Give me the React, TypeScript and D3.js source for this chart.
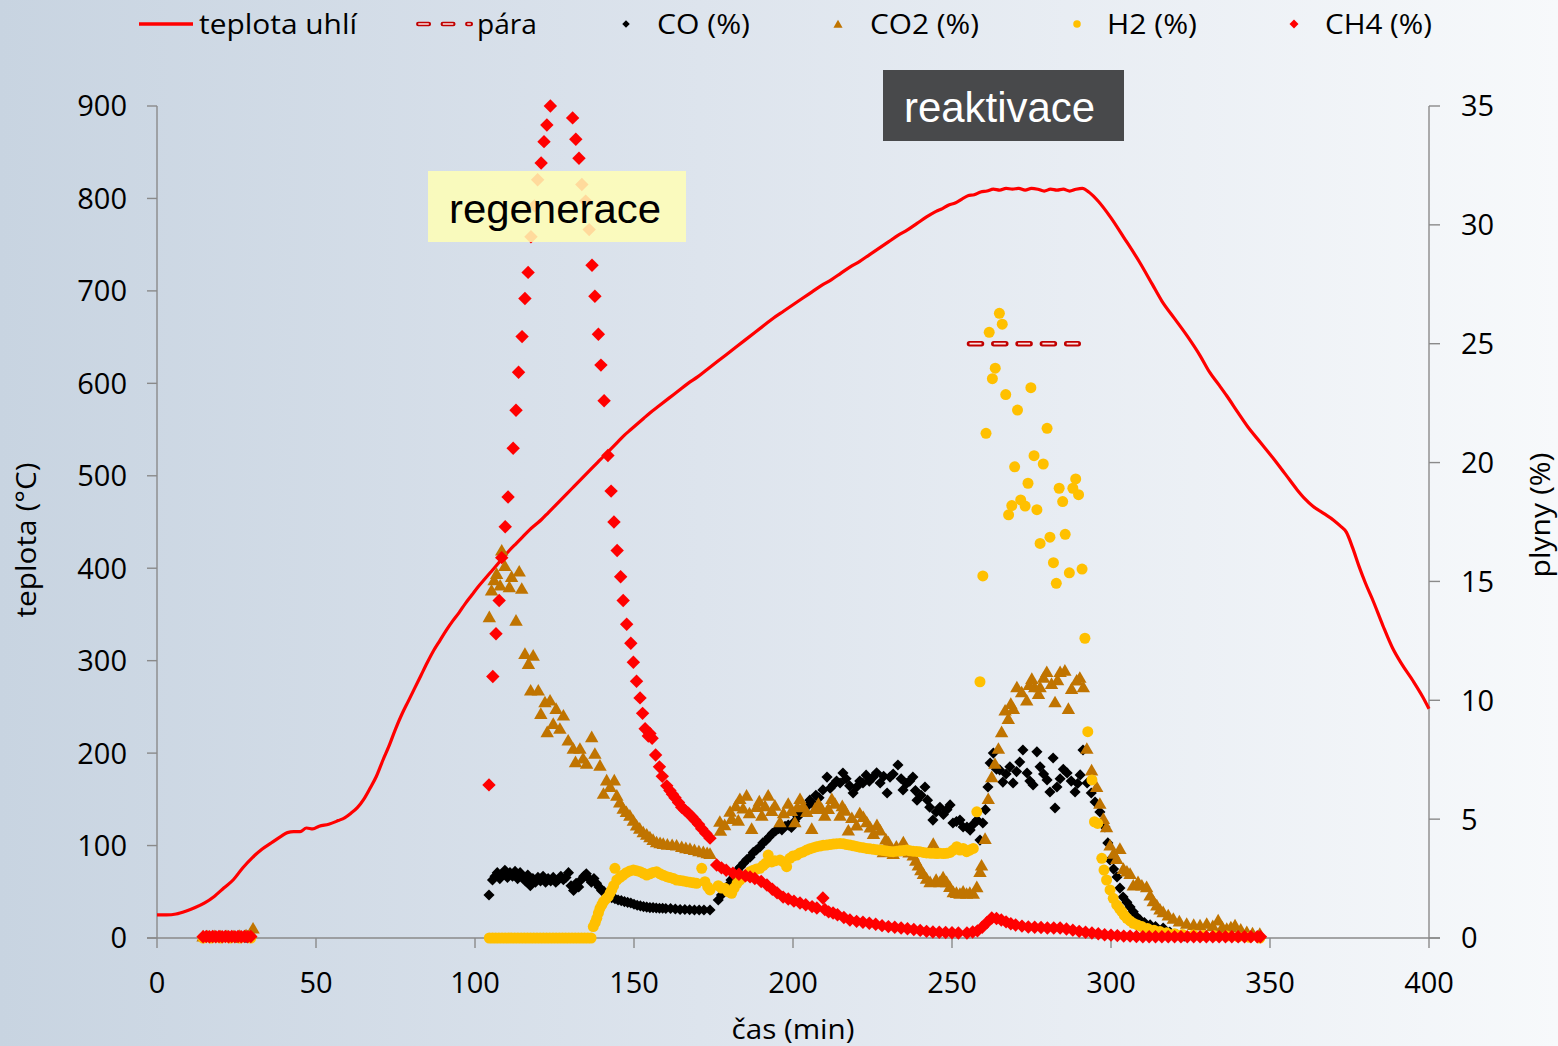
import React from 'react';
import * as d3 from 'd3';

const W = 1558;
const H = 1046;

// time (min), coal temperature (°C)
const temperature: [number, number][] = [
  [0, 25], [3, 25], [6, 26], [9, 29], [12, 33], [15, 38], [18, 45], [21, 54], [24, 63], [27, 76], [30, 87],
  [33, 96], [36, 103], [39, 110], [41, 114], [43, 115], [45, 115], [47, 119], [49, 118], [51, 121], [54, 123],
  [57, 127], [59, 130], [61, 135], [63, 141], [65, 150], [67, 162], [69, 175], [71, 192], [73, 208], [75, 226],
  [77, 242], [79, 256], [81, 270], [83, 284], [85, 298], [87, 311], [89, 322], [91, 333], [93, 343], [95, 352],
  [97, 362], [99, 371], [101, 380], [103, 388], [105, 396], [107, 404], [109, 412], [111, 420], [113, 427],
  [115, 434], [117, 441], [119, 447], [121, 453], [123, 460], [125, 467], [127, 474], [129, 481], [131, 488],
  [133, 495], [135, 502], [137, 509], [139, 516], [141, 523], [143, 530], [145, 537], [147, 544], [149, 550],
  [151, 556], [153, 562], [155, 568], [158, 576], [161, 584], [164, 592], [167, 600], [170, 607], [173, 615],
  [176, 623], [179, 631], [182, 639], [185, 647], [188, 655], [191, 663], [194, 671], [197, 678], [200, 685],
  [203, 692], [206, 699], [209, 706], [212, 712], [215, 719], [218, 726], [221, 732], [224, 739], [227, 746],
  [230, 753], [233, 760], [236, 766], [239, 773], [242, 780], [245, 786], [247, 789], [249, 793], [251, 795],
  [253, 799], [255, 803], [257, 804], [259, 807], [261, 808], [263, 810], [265, 809], [267, 811], [269, 810],
  [271, 811], [273, 809], [275, 811], [277, 810], [279, 808], [281, 810], [283, 809], [285, 810], [287, 808],
  [289, 810], [291, 811], [293, 807], [296, 797], [300, 779], [304, 758], [309, 731], [313, 707], [316, 689],
  [320, 670], [324, 651], [328, 630], [331, 612], [334, 598], [336.5, 586], [340, 568], [343, 553], [347, 536],
  [351, 519], [355, 501], [358.5, 485], [361, 475], [363.5, 467], [367, 459], [370, 452], [372, 446], [374, 439],
  [376, 422], [378, 402], [380, 384], [382.5, 364], [385.5, 338], [388.5, 314], [391.5, 296], [395, 278],
  [398, 261], [400, 248],
];

// steam (right axis, %)
const steam: [number, number][] = [[255.5, 25], [289.7, 25]];

// CO (%)
const co: [number, number][] = [
  [15, 0.02], [20, 0.02], [25, 0.02], [28, 0.02],
  [104.4, 1.81], [105.5, 2.44], [106.3, 2.6], [107, 2.75], [107.8, 2.5], [108.6, 2.7], [109.4, 2.85], [110.2, 2.55],
  [111, 2.75], [111.8, 2.6], [112.6, 2.8], [113.4, 2.5], [114.2, 2.75], [115, 2.6], [115.8, 2.4], [116.6, 2.65],
  [117.4, 2.2], [118.2, 2.5], [119, 2.35], [119.8, 2.55], [120.6, 2.4], [121.4, 2.6], [122.2, 2.35], [123, 2.5],
  [123.8, 2.4], [124.6, 2.55], [125.4, 2.35], [126.2, 2.45], [127, 2.6], [127.8, 2.45], [128.6, 2.55], [129.4, 2.75],
  [130.2, 2.2], [131, 2.0], [131.8, 2.3], [132.6, 2.15], [133.4, 2.45], [134.2, 2.6], [135, 2.7], [135.8, 2.5],
  [136.6, 2.35], [137.4, 2.5], [138.2, 2.3], [139, 2.15], [139.8, 2.0], [140.6, 1.95], [141.4, 1.85], [142.2, 1.78],
  [143, 1.7], [144, 1.65], [145, 1.6], [146, 1.57], [147, 1.53], [148, 1.5], [149, 1.47], [150, 1.42], [151, 1.38],
  [152, 1.35], [153, 1.32], [154, 1.3], [155, 1.28], [156, 1.28], [157, 1.26], [158, 1.25], [159, 1.25], [160, 1.24],
  [161.5, 1.24], [163, 1.22], [164.5, 1.2], [166, 1.2], [167.5, 1.19], [169, 1.18], [170.5, 1.18], [172, 1.18],
  [173.9, 1.18],
  [176.5, 1.6], [177.5, 1.81], [178.5, 2.0], [179.5, 2.2], [180.5, 2.44], [181.5, 2.6], [182.5, 2.85], [183.5, 3.0],
  [184.5, 3.15], [185.5, 3.3], [186.5, 3.4], [187.5, 3.6], [188.5, 3.7], [189.6, 3.83], [190.5, 4.0], [191.5, 4.1],
  [192.5, 4.25], [193.5, 4.4], [194.5, 4.5], [195.5, 4.6], [196.5, 4.55], [197.5, 4.7], [198.5, 4.75], [199.5, 4.65],
  [200.5, 4.9], [201.5, 5.1], [202.5, 5.3], [203.5, 5.45], [204.5, 5.55], [205.3, 5.8], [206.3, 5.65], [207.2, 6.0],
  [208.2, 5.9], [209.4, 6.23], [210.7, 6.77], [211.7, 6.3], [212.7, 6.45], [213.7, 6.6], [214.8, 6.52], [215.7, 6.94],
  [216.7, 6.7], [217.8, 6.4], [218.9, 6.1], [220, 6.35], [221, 6.6], [222, 6.52], [223, 6.85], [224, 6.6],
  [225.2, 6.77], [226.3, 6.95], [227.4, 6.52], [228.5, 6.8], [229.6, 6.1], [230.5, 6.77], [231.5, 6.9], [233, 7.28],
  [234, 6.7], [234.6, 6.23], [235.7, 6.5], [236.7, 6.6], [237.7, 6.77], [238.5, 6.2], [239, 5.8], [240.3, 6.0],
  [241.5, 6.35], [242.3, 5.8], [243, 5.5], [244, 4.96], [245, 5.3], [246.2, 5.5], [247.3, 5.2], [248.4, 5.4],
  [249.4, 5.6], [250.3, 4.84], [251.4, 4.9], [252.5, 4.96], [253.5, 4.67], [254.7, 4.67], [255.7, 4.54], [256.8, 4.8],
  [257.9, 4.96], [258.8, 4.12], [259.7, 4.84], [260.5, 5.4], [261.3, 6.35], [262, 7.36], [263, 7.78], [264, 7.1],
  [265, 7.07], [266, 6.56], [267, 6.9], [268.2, 7.2], [269.2, 6.52], [270.3, 7.0], [271.3, 7.4], [272.3, 7.91],
  [273.6, 6.94], [274.5, 6.6], [275.5, 6.44], [276.7, 7.83], [277.7, 7.2], [278.8, 6.9], [279.9, 6.65], [280.8, 6.14],
  [281.8, 7.57], [282.4, 5.47], [283, 6.35], [284, 6.7], [285, 7.1], [286.2, 6.94], [287.5, 6.6], [288.7, 6.14],
  [289.5, 6.5], [290.3, 6.86], [291.2, 7.91], [292.5, 6.52], [293.8, 6.1], [295, 5.72], [296.5, 5.3], [298.1, 4.67],
  [299, 4.0], [299.7, 3.28], [300.8, 2.9], [301.9, 2.57], [302.8, 2.1], [303.8, 1.72], [305, 1.5], [306, 1.3],
  [307, 1.1], [308, 0.9], [309.1, 0.76], [310.5, 0.65], [312.3, 0.55], [314, 0.48], [316.4, 0.42], [318.5, 0.25],
  [320.8, 0.13], [323, 0.08],
];

// CO2 (%)
const co2: [number, number][] = [
  [14.5, 0.02], [16, 0.02], [18, 0.03], [20, 0.02], [22, 0.03], [24, 0.02], [26, 0.04], [28, 0.06], [29.5, 0.15], [30.2, 0.35],
  [104.5, 13.45], [105.2, 14.57], [106, 15.0], [106.8, 15.27], [107.9, 14.78], [108.4, 16.25], [109.4, 15.6],
  [110.8, 14.71], [111.5, 15.14], [112.9, 13.3], [113.9, 15.37], [114.7, 14.64], [115.7, 11.9], [116.8, 11.48],
  [117.5, 10.36], [118.3, 11.83], [119.9, 10.36], [120.7, 9.38], [122, 9.87], [122.7, 8.61], [123.6, 9.94],
  [124.6, 8.96], [125.5, 9.59], [126.7, 8.75], [127.8, 9.31], [129.3, 8.26], [130.9, 7.91], [131.6, 7.35],
  [133, 7.91], [134, 7.5], [135.1, 7.28], [136.7, 8.4], [137.7, 7.7], [139.3, 7.2], [140.4, 6.02], [141.4, 6.58],
  [142.5, 6.3], [143.8, 6.58], [144.6, 5.94], [145.5, 5.65], [146.6, 5.39], [147.6, 5.25], [148.7, 5.1],
  [149.8, 4.88], [150.8, 4.68], [151.8, 4.55], [152.9, 4.4], [154, 4.3], [155, 4.19], [156, 4.08], [157.1, 3.98],
  [158.2, 3.94], [159.2, 3.91], [160.5, 3.88], [162, 3.86], [163.4, 3.84], [165, 3.78], [166.3, 3.73],
  [167.6, 3.7], [169, 3.65], [170.4, 3.6], [171.8, 3.56], [173, 3.52], [173.9, 3.49],
  [177, 4.84], [177.2, 4.46], [178.5, 4.7], [180.2, 5.26], [180.7, 4.96], [182, 5.5], [182.8, 4.89], [183.3, 5.8],
  [184.3, 5.4], [185.4, 5.94], [186.3, 5.2], [187, 4.54], [188.6, 5.46], [189.4, 5.7], [190.2, 5.1], [191.2, 5.5],
  [192.2, 5.94], [193.3, 5.3], [194.3, 5.52], [195.9, 4.82], [197, 5.2], [198.5, 5.6], [199.5, 5.3], [200.6, 4.82],
  [201.4, 5.45], [202.2, 5.8], [203.2, 5.5], [204.3, 5.25], [205.9, 4.54], [206.9, 5.38], [208, 5.6], [209, 5.38],
  [210, 5.1], [211.1, 5.38], [212.2, 5.8], [213.2, 5.6], [214.8, 5.1], [215.5, 5.5], [216.4, 5.31], [217.4, 4.47],
  [218.5, 5.0], [220, 4.68], [221, 5.2], [222.1, 5.04], [223.2, 4.82], [224.3, 4.6], [225.3, 4.33], [226.4, 4.7],
  [227.4, 4.47], [228.4, 3.56], [229.2, 4.1], [230, 3.98], [231.5, 3.49], [232.5, 3.8], [233.6, 3.6], [234.7, 3.98],
  [235.2, 3.7], [236.5, 3.55], [237.8, 3.42], [238.6, 3.2], [239.4, 3.0], [240.2, 2.8], [241, 2.65], [242, 2.45],
  [243.1, 2.3], [244.1, 3.91], [245, 2.4], [246.2, 2.3], [247.2, 2.5], [248.3, 2.3], [249.3, 2.1], [250.4, 1.88],
  [251.4, 1.85], [252.5, 1.81], [253.5, 1.9], [254.6, 1.81], [255.6, 1.85], [256.7, 1.81], [257.8, 2.09],
  [258.8, 2.73], [259.3, 3.0], [260.4, 4.12], [261.4, 5.8], [262.5, 6.72], [263.5, 7.28], [264.6, 7.91],
  [265.6, 8.61], [266.7, 9.52], [267.7, 9.17], [268.5, 9.8], [269.3, 9.59], [270.4, 10.5], [271.9, 10.29],
  [273.5, 9.94], [274.3, 10.6], [275.1, 10.85], [276, 10.5], [277.2, 10.22], [277.7, 10.5], [278.8, 10.9],
  [279.8, 11.14], [281.3, 10.64], [282.4, 9.87], [283.2, 10.8], [284, 11.14], [285.5, 11.2], [286.6, 9.59],
  [287.6, 10.43], [289.2, 10.78], [290.2, 10.9], [291.3, 10.5], [292.4, 7.91], [293.9, 7.0], [295.5, 6.3],
  [296.5, 5.6], [297.6, 4.96], [298.6, 4.61], [299.7, 3.84], [300.8, 3.5], [301.8, 3.28], [302.8, 3.7],
  [303.9, 2.86], [305, 2.75], [306, 2.65], [307, 2.16], [308.5, 2.3], [309.7, 2.16], [311.2, 2.09], [312.3, 1.74],
  [313.3, 1.5], [314.4, 1.32], [315.4, 1.15], [316.4, 1.04], [318, 0.9], [319.6, 0.76], [321.5, 0.65],
  [323.8, 0.55], [326, 0.5], [328, 0.48], [330.1, 0.55], [332, 0.45], [333.7, 0.69], [335, 0.4], [336.4, 0.34],
  [337.7, 0.4], [339, 0.48], [340.8, 0.3], [342.7, 0.2], [344.5, 0.15], [346.8, 0.13],
];

// H2 (%)
const h2: [number, number][] = [
  [14.5, 0], [17, 0], [20, 0], [23, 0], [26, 0], [29.5, 0],
  [104.5, 0], [105.5, 0], [106.5, 0], [107.5, 0], [108.5, 0], [109.5, 0], [110.5, 0], [111.5, 0], [112.5, 0],
  [113.5, 0], [114.5, 0], [115.5, 0], [116.5, 0], [117.5, 0], [118.5, 0], [119.5, 0], [120.5, 0], [121.5, 0],
  [122.5, 0], [123.5, 0], [124.5, 0], [125.5, 0], [126.5, 0], [127.5, 0], [128.5, 0], [129.5, 0], [130.5, 0],
  [131.5, 0], [132.5, 0], [133.5, 0], [134.5, 0], [135.5, 0], [136.5, 0],
  [137.2, 0.48], [137.8, 0.65], [138.3, 0.83], [138.8, 1.05], [139.3, 1.25], [139.9, 1.4], [140.4, 1.53],
  [141.2, 1.65], [141.9, 1.74], [142.5, 1.9], [143, 2.02], [143.6, 2.2], [144, 2.93], [144.6, 2.44], [145.6, 2.55],
  [146.6, 2.65], [147.6, 2.75], [148.7, 2.82], [149.8, 2.86], [150.8, 2.83], [151.9, 2.79], [153, 2.72], [154, 2.65],
  [155, 2.7], [156, 2.76], [157.1, 2.79], [158.2, 2.7], [159.2, 2.64], [160.3, 2.58], [161.3, 2.54], [162.4, 2.5],
  [163.4, 2.44], [164.5, 2.42], [165.5, 2.4], [166.6, 2.37], [167.6, 2.35], [168.7, 2.32], [169.7, 2.3],
  [171.3, 2.93], [172.3, 2.37], [173.2, 2.15], [173.9, 2.02],
  [176.5, 2.2], [177.5, 2.1], [178.6, 2.09], [179.6, 1.95], [180.7, 1.88], [181.5, 2.1], [182.4, 2.3], [183.3, 2.44],
  [184.3, 2.55], [185.4, 2.65], [186.5, 2.79], [187.5, 2.85], [188.5, 2.9], [189.6, 2.93], [190.6, 3.05],
  [191.5, 3.15], [192.2, 3.49], [193.3, 3.2], [194.3, 3.25], [195.9, 3.28], [197, 3.2], [198, 3.0], [199, 3.35],
  [200, 3.45], [201.2, 3.49], [202.2, 3.58], [203.2, 3.62], [204.3, 3.7], [205.3, 3.75], [206.4, 3.8], [207.4, 3.84],
  [208.5, 3.87], [209.5, 3.9], [210.6, 3.91], [211.6, 3.93], [212.7, 3.95], [213.7, 3.97], [214.8, 3.98],
  [215.9, 3.96], [216.9, 3.93], [217.9, 3.91], [219, 3.88], [220, 3.85], [221, 3.82], [222.1, 3.8], [223.2, 3.77],
  [224.2, 3.75], [225.3, 3.73], [226.4, 3.71], [227.4, 3.7], [228.5, 3.68], [229.5, 3.66], [230.5, 3.64],
  [231.5, 3.63], [232.6, 3.65], [233.6, 3.67], [234.7, 3.68], [235.8, 3.7], [236.8, 3.67], [237.8, 3.65],
  [238.9, 3.64], [239.9, 3.63], [241, 3.6], [242, 3.58], [243.1, 3.57], [244.1, 3.56], [245.2, 3.55], [246.2, 3.56],
  [247.3, 3.55], [248.3, 3.56], [249.4, 3.6], [250.4, 3.7], [251.5, 3.84], [252.5, 3.7], [253.5, 3.77],
  [254.6, 3.63], [255.6, 3.7], [256.7, 3.77], [257.8, 5.31], [258.8, 10.78], [259.7, 15.23], [260.7, 21.23],
  [261.7, 25.48], [262.7, 23.53], [263.6, 23.97], [264.9, 26.28], [265.8, 25.82], [266.9, 22.86], [267.8, 17.8],
  [268.8, 18.19], [269.7, 19.82], [270.6, 22.21], [271.6, 18.43], [273, 18.17], [273.9, 19.13], [274.8, 23.15],
  [275.8, 20.29], [276.7, 18.02], [277.7, 16.6], [278.7, 19.94], [279.9, 21.44], [280.8, 16.86], [281.9, 15.79],
  [282.8, 14.92], [283.7, 18.92], [284.8, 18.36], [285.6, 16.98], [286.9, 15.36], [288, 18.92], [288.9, 19.31],
  [289.8, 18.65], [290.9, 15.52], [291.8, 12.61], [292.7, 8.68], [294, 6.65], [294.8, 4.89], [295.8, 4.82],
  [297.1, 3.35], [297.8, 2.86], [298.6, 2.44], [299.7, 2.02], [300.7, 1.67], [301.8, 1.39], [302.6, 1.25],
  [303.4, 1.11], [304.2, 0.95], [305, 0.83], [306, 0.72], [307, 0.62], [308.3, 0.55], [309.7, 0.48], [311.5, 0.4],
  [313.5, 0.33], [315.4, 0.27], [317.5, 0.22], [320, 0.18], [322.5, 0.15], [325.9, 0.13], [329, 0.11],
  [332.5, 0.09], [336.4, 0.08], [340, 0.05], [343.5, 0.03], [346.8, 0.0],
];

// CH4 (%)
const ch4: [number, number][] = [
  [14.5, 0.05], [15.5, 0.06], [16.5, 0.05], [17.5, 0.06], [18.5, 0.05], [19.5, 0.06], [20.5, 0.05], [21.5, 0.06],
  [22.5, 0.05], [23.5, 0.06], [24.5, 0.05], [25.5, 0.06], [26.5, 0.05], [27.5, 0.06], [28.5, 0.05], [29.5, 0.06],
  [104.4, 6.44], [105.6, 11.0], [106.6, 12.8], [107.6, 14.2], [108.4, 16.0], [109.5, 17.3], [110.4, 18.55],
  [112, 20.6], [112.9, 22.2], [113.7, 23.8], [114.8, 25.3], [115.7, 26.9], [116.7, 28.0], [117.6, 29.5],
  [118.7, 30.8], [119.7, 31.9], [120.8, 32.6], [121.7, 33.5], [122.6, 34.2], [123.7, 35.0],
  [130.7, 34.5], [131.7, 33.6], [132.7, 32.8], [133.6, 31.7], [134.8, 31.0], [135.9, 29.8], [136.8, 28.3],
  [137.7, 27.0], [138.8, 25.4], [139.6, 24.1], [140.6, 22.6], [141.8, 20.3], [142.8, 18.8], [143.7, 17.5],
  [144.7, 16.3], [145.8, 15.2], [146.6, 14.2], [147.7, 13.2], [149.0, 12.4], [149.8, 11.6], [150.8, 10.8],
  [151.9, 10.1], [152.7, 9.45], [153.5, 8.8], [154.5, 8.5], [155.0, 8.6], [155.7, 8.4], [156.8, 7.7], [158.0, 7.2],
  [158.9, 6.8], [160.3, 6.4], [161.3, 6.2], [162.1, 6.05], [162.9, 5.9], [164, 5.7], [165.0, 5.5], [166, 5.38],
  [167.1, 5.25], [168.2, 5.1], [169.2, 4.95], [170.3, 4.78], [171.3, 4.6], [172.6, 4.4], [173.9, 4.2],
  [176.0, 3.07], [177.5, 2.95], [179, 2.85], [181.1, 2.73], [183, 2.68], [185, 2.62], [186.5, 2.57], [188, 2.5],
  [190, 2.38], [191.8, 2.23], [193.5, 2.05], [195, 1.9], [196.9, 1.72], [198.5, 1.64], [200.3, 1.55], [202.2, 1.47],
  [204, 1.4], [206, 1.32], [207.5, 1.26], [209.4, 1.68], [210, 1.2], [211.2, 1.1], [212.6, 1.05], [214, 0.98],
  [216, 0.86], [217.9, 0.76], [220, 0.7], [222, 0.66], [224, 0.62], [226, 0.58], [228, 0.52], [230, 0.48],
  [232, 0.45], [234, 0.42], [236, 0.39], [238, 0.36], [240, 0.32], [242, 0.28], [244, 0.25], [246, 0.24],
  [248, 0.23], [250, 0.22], [252, 0.21], [254.7, 0.21], [256.5, 0.25], [258, 0.3], [259.5, 0.45], [261, 0.65],
  [262.5, 0.84], [264, 0.82], [265.5, 0.76], [267, 0.68], [268.5, 0.6], [270, 0.55], [272, 0.5], [274, 0.46],
  [276, 0.45], [278, 0.44], [280, 0.42], [282, 0.42], [284, 0.42], [286, 0.38], [288, 0.33], [290, 0.28],
  [292, 0.24], [294, 0.21], [296, 0.18], [298, 0.14], [300, 0.12], [302, 0.1], [304, 0.08], [306, 0.08],
  [308, 0.06], [310, 0.05], [312, 0.05], [314, 0.05], [316, 0.05], [318, 0.05], [320, 0.05], [322, 0.05],
  [324, 0.05], [326, 0.05], [328, 0.05], [330, 0.05], [332, 0.05], [334, 0.05], [336, 0.05], [338, 0.05],
  [340, 0.05], [342, 0.05], [344, 0.05], [346, 0.05], [347, 0.05],
];

const xTicks = [0, 50, 100, 150, 200, 250, 300, 350, 400];
const leftTicks = [0, 100, 200, 300, 400, 500, 600, 700, 800, 900];
const rightTicks = [0, 5, 10, 15, 20, 25, 30, 35];

const legendLabels = ['teplota uhlí', 'pára', 'CO (%)', 'CO2 (%)', 'H2 (%)', 'CH4 (%)'];
const annotations = ['regenerace', 'reaktivace'];
const axisTitles = ['teplota (°C)', 'plyny (%)', 'čas (min)'];

const COL_TEMP = '#ff0000';
const COL_STEAM = '#c00000';
const COL_CO = '#000000';
const COL_CO2 = '#c07400';
const COL_H2 = '#ffc000';
const COL_CH4 = '#ff0000';
const AXIS = '#8a8a8a';
const FONT = "'Open Sans', 'Noto Sans', sans-serif";

export default function App() {
  const x = d3.scaleLinear().domain([0, 400]).range([157, 1429]);
  const yL = d3.scaleLinear().domain([0, 900]).range([938, 106]);
  const yR = d3.scaleLinear().domain([0, 35]).range([938, 106]);

  const tempPath =
    d3
      .line<[number, number]>()
      .x((d) => x(d[0]))
      .y((d) => yL(d[1]))
      .curve(d3.curveMonotoneX)(temperature) || '';
  const steamPath = d3.line<[number, number]>().x((d) => x(d[0])).y((d) => yR(d[1]))(steam) || '';

  const diamondBig = d3.symbol(d3.symbolSquare, 90)() || '';
  const diamondCO = d3.symbol(d3.symbolSquare, 62)() || '';
  const triangle = d3.symbol(d3.symbolTriangle, 78)() || '';
  const circle = d3.symbol(d3.symbolCircle, 95)() || '';

  const diamondLeg = d3.symbol(d3.symbolSquare, 28)() || '';
  const diamondLeg2 = d3.symbol(d3.symbolSquare, 40)() || '';
  const triangleLeg = d3.symbol(d3.symbolTriangle, 36)() || '';
  const circleLeg = d3.symbol(d3.symbolCircle, 44)() || '';

  const pts = (data: [number, number][], path: string, fill: string, rot: boolean, key: string) =>
    data.map((d, i) => (
      <path
        key={key + i}
        d={path}
        fill={fill}
        transform={`translate(${x(d[0])},${yR(d[1])})${rot ? ' rotate(45)' : ''}`}
      />
    ));

  const legendY = 24;
  const legendBase = 34;

  return (
    <svg
      width={W}
      height={H}
      viewBox={`0 0 ${W} ${H}`}
      style={{ position: 'absolute', left: 0, top: 0, display: 'block' }}
      xmlns="http://www.w3.org/2000/svg"
    >
      <defs>
        <linearGradient id="bg" x1="0" y1="0" x2="1" y2="0">
          <stop offset="0%" stopColor="#c8d4e1" />
          <stop offset="45%" stopColor="#dde4ed" />
          <stop offset="100%" stopColor="#f7f9fb" />
        </linearGradient>
      </defs>
      <rect x={0} y={0} width={W} height={H} fill="url(#bg)" />

      {/* axes */}
      <g stroke={AXIS} strokeWidth={1.4} fill="none">
        <line x1={157} y1={yL(900)} x2={157} y2={938} />
        <line x1={1429} y1={yR(35)} x2={1429} y2={938} />
        <line x1={147} y1={938} x2={1440} y2={938} />
        {leftTicks.map((t) => (
          <line key={'lt' + t} x1={147} x2={157} y1={yL(t)} y2={yL(t)} />
        ))}
        {rightTicks.map((t) => (
          <line key={'rt' + t} x1={1429} x2={1440} y1={yR(t)} y2={yR(t)} />
        ))}
        {xTicks.map((t) => (
          <line key={'xt' + t} x1={x(t)} x2={x(t)} y1={938} y2={948} />
        ))}
      </g>

      <g fontFamily={FONT} fontSize={29} fill="#000">
        {leftTicks.map((t) => (
          <text key={'ll' + t} x={127} y={yL(t)} dy="0.36em" textAnchor="end">
            {t}
          </text>
        ))}
        {rightTicks.map((t) => (
          <text key={'rl' + t} x={1461} y={yR(t)} dy="0.36em" textAnchor="start">
            {t}
          </text>
        ))}
        {xTicks.map((t) => (
          <text key={'xl' + t} x={x(t)} y={993} textAnchor="middle">
            {t}
          </text>
        ))}
      </g>

      {/* axis titles */}
      <g fontFamily={FONT} fontSize={27} fill="#000">
        <text
          transform={`translate(36,540) rotate(-90)`}
          textAnchor="middle"
          textLength={155}
          lengthAdjust="spacingAndGlyphs"
        >
          {axisTitles[0]}
        </text>
        <text
          transform={`translate(1550,515) rotate(-90)`}
          textAnchor="middle"
          textLength={125}
          lengthAdjust="spacingAndGlyphs"
        >
          {axisTitles[1]}
        </text>
        <text x={793} y={1039} textAnchor="middle" textLength={123} lengthAdjust="spacingAndGlyphs">
          {axisTitles[2]}
        </text>
      </g>

      {/* temperature line */}
      <path d={tempPath} fill="none" stroke={COL_TEMP} strokeWidth={3.2} strokeLinejoin="round" />

      {/* steam */}
      <path d={steamPath} fill="none" stroke={COL_STEAM} strokeWidth={5.5} strokeDasharray="12 12.3" strokeLinecap="round" />
      <path d={steamPath} fill="none" stroke="#fbe4e4" strokeWidth={1.8} strokeDasharray="12 12.3" />

      {/* gas series */}
      <g>{pts(co, diamondCO, COL_CO, true, 'co')}</g>
      <g>{pts(co2, triangle, COL_CO2, false, 'co2')}</g>
      <g>{pts(h2, circle, COL_H2, false, 'h2')}</g>
      <g>{pts(ch4, diamondBig, COL_CH4, true, 'ch4')}</g>

      {/* annotations */}
      <rect x={428} y={171} width={258} height={71} fill="#fffeb6" fillOpacity={0.86} />
      <text
        x={449}
        y={223}
        fontFamily="'Liberation Sans', Arial, sans-serif"
        fontSize={41}
        fill="#000"
        textLength={212}
        lengthAdjust="spacingAndGlyphs"
      >
        {annotations[0]}
      </text>
      <rect x={883} y={70} width={241} height={71} fill="#48494b" />
      <text
        x={904}
        y={122}
        fontFamily="'Liberation Sans', Arial, sans-serif"
        fontSize={42}
        fill="#ffffff"
        textLength={191}
        lengthAdjust="spacingAndGlyphs"
      >
        {annotations[1]}
      </text>

      {/* legend */}
      <g fontFamily={FONT} fontSize={27} fill="#000">
        <line x1={139} x2={193} y1={legendY} y2={legendY} stroke={COL_TEMP} strokeWidth={3.5} />
        <text x={199} y={legendBase} textLength={158} lengthAdjust="spacingAndGlyphs">
          {legendLabels[0]}
        </text>

        <line x1={418.3} x2={470.8} y1={legendY} y2={legendY} stroke={COL_STEAM} strokeWidth={4.5} strokeDasharray="10.5 14" strokeLinecap="round" />
        <line x1={418.3} x2={470.8} y1={legendY} y2={legendY} stroke="#fbe4e4" strokeWidth={1.4} strokeDasharray="10.5 14" />
        <text x={477} y={legendBase} textLength={60} lengthAdjust="spacingAndGlyphs">
          {legendLabels[1]}
        </text>

        <path d={diamondLeg} fill={COL_CO} transform={`translate(626,${legendY}) rotate(45)`} />
        <text x={657} y={legendBase} textLength={93} lengthAdjust="spacingAndGlyphs">
          {legendLabels[2]}
        </text>

        <path d={triangleLeg} fill={COL_CO2} transform={`translate(838,${legendY + 1})`} />
        <text x={870} y={legendBase} textLength={109} lengthAdjust="spacingAndGlyphs">
          {legendLabels[3]}
        </text>

        <path d={circleLeg} fill={COL_H2} transform={`translate(1077,${legendY})`} />
        <text x={1107} y={legendBase} textLength={90} lengthAdjust="spacingAndGlyphs">
          {legendLabels[4]}
        </text>

        <path d={diamondLeg2} fill={COL_CH4} transform={`translate(1294,${legendY}) rotate(45)`} />
        <text x={1325} y={legendBase} textLength={107} lengthAdjust="spacingAndGlyphs">
          {legendLabels[5]}
        </text>
      </g>
    </svg>
  );
}
